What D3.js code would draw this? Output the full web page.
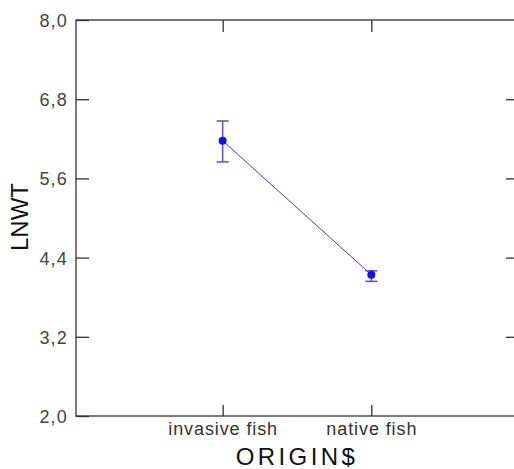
<!DOCTYPE html>
<html>
<head>
<meta charset="utf-8">
<script src="https://cdn.jsdelivr.net/npm/d3@7"></script>
<style>
body { margin: 0; background: #fff; }
text { font-family: "Liberation Sans", Arial, sans-serif; }
</style>
</head>
<body>
<script>
var categories = ["invasive fish", "native fish"];
var means = [6.17, 4.14];
var upper = [6.47, 4.20];
var lower = [5.85, 4.04];
var yTicks = [2.0, 3.2, 4.4, 5.6, 6.8, 8.0];

var margin = {top: 20, right: 0, bottom: 53, left: 76};
var width = 514 - margin.left - margin.right;
var height = 469 - margin.top - margin.bottom;

var svg = d3.select("body").append("svg")
	.attr("width", 514)
	.attr("height", 469)
	.append("g")
	.attr("transform", "translate(" + margin.left + "," + margin.top + ")");

var xScale = d3.scaleLinear().domain([0, 3]).range([-2, 444]);
var yScale = d3.scaleLinear().domain([2, 8]).range([height, 0]);

var fmt = function(d) { return d3.format(".1f")(d).replace(".", ","); };

// frame
svg.append("rect")
	.attr("x", 0).attr("y", 0)
	.attr("width", width + 2).attr("height", height)
	.attr("fill", "none")
	.attr("stroke", "#333")
	.attr("stroke-width", 1.3);

// left axis, ticks inward
svg.append("g")
	.attr("class", "AxisY")
	.call(d3.axisLeft(yScale).tickValues(yTicks).tickSize(-13).tickPadding(8).tickFormat(fmt))
	.call(function(g) {
		g.select(".domain").remove();
		g.selectAll("line").attr("stroke", "#333").attr("stroke-width", 1.3);
		g.selectAll("text").attr("fill", "#444").attr("dy", "0.36em")
			.style("font-size", "18px").style("letter-spacing", "1.2px");
	});

// right ticks
svg.append("g")
	.attr("transform", "translate(" + width + ",0)")
	.call(d3.axisRight(yScale).tickValues(yTicks.slice(1, 5)).tickSize(-8).tickFormat(""))
	.call(function(g) {
		g.select(".domain").remove();
		g.selectAll("line").attr("stroke", "#333").attr("stroke-width", 1.3);
	});

// bottom axis
svg.append("g")
	.attr("transform", "translate(0," + height + ")")
	.call(d3.axisBottom(xScale).tickValues([1, 2]).tickSize(-11).tickPadding(6)
		.tickFormat(function(d) { return categories[d - 1]; }))
	.call(function(g) {
		g.select(".domain").remove();
		g.selectAll("line").attr("stroke", "#333").attr("stroke-width", 1.3);
		g.selectAll("text").attr("fill", "#333")
			.style("font-size", "18px").style("letter-spacing", "0.9px");
	});

// top ticks
svg.append("g")
	.call(d3.axisTop(xScale).tickValues([1, 2]).tickSize(-12).tickFormat(""))
	.call(function(g) {
		g.select(".domain").remove();
		g.selectAll("line").attr("stroke", "#333").attr("stroke-width", 1.3);
	});

var data = categories.map(function(c, i) {
	return {cat: c, x: i + 1, mean: means[i], hi: upper[i], lo: lower[i]};
});

// connecting line
svg.append("path")
	.datum(data)
	.attr("fill", "none")
	.attr("stroke", "#4b3fb0")
	.attr("stroke-width", 1)
	.attr("d", d3.line().x(function(d) { return xScale(d.x); }).y(function(d) { return yScale(d.mean); }));

// error bars
var eb = svg.selectAll(".errbar").data(data).enter().append("g").attr("class", "errbar")
	.attr("stroke", "#5b4fd0").attr("stroke-width", 1.5);
eb.append("line")
	.attr("x1", function(d) { return xScale(d.x); })
	.attr("x2", function(d) { return xScale(d.x); })
	.attr("y1", function(d) { return yScale(d.hi); })
	.attr("y2", function(d) { return yScale(d.lo); });
eb.append("line")
	.attr("x1", function(d) { return xScale(d.x) - 6; })
	.attr("x2", function(d) { return xScale(d.x) + 6; })
	.attr("y1", function(d) { return yScale(d.hi); })
	.attr("y2", function(d) { return yScale(d.hi); });
eb.append("line")
	.attr("x1", function(d) { return xScale(d.x) - 6; })
	.attr("x2", function(d) { return xScale(d.x) + 6; })
	.attr("y1", function(d) { return yScale(d.lo); })
	.attr("y2", function(d) { return yScale(d.lo); });

// points
svg.selectAll(".pt").data(data).enter().append("circle")
	.attr("class", "pt")
	.attr("cx", function(d) { return xScale(d.x); })
	.attr("cy", function(d) { return yScale(d.mean); })
	.attr("r", 4)
	.attr("fill", "#1010e8");

// axis titles
svg.append("text")
	.attr("x", xScale(1.5))
	.attr("y", height + 49)
	.attr("text-anchor", "middle")
	.attr("fill", "#111")
	.style("font-size", "24px")
	.style("letter-spacing", "3.4px")
	.text("ORIGIN$");

svg.append("text")
	.attr("transform", "translate(-48," + (height / 2 - 1) + ") rotate(-90)")
	.attr("text-anchor", "middle")
	.attr("fill", "#111")
	.style("font-size", "24px")
	.text("LNWT");
</script>
</body>
</html>
